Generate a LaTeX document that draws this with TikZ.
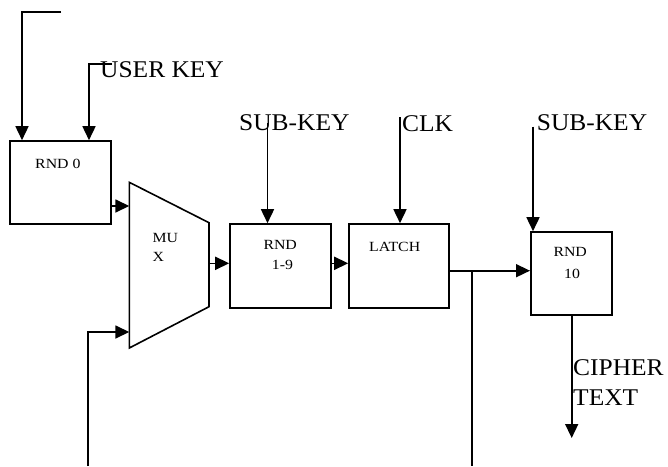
\documentclass[tikz,border=0pt]{standalone}
\usepackage{fontspec}
\setmainfont{Liberation Serif}
\newfontfamily\bigfam[FakeStretch=1.06]{Liberation Serif}
\newfontfamily\smallfam[FakeStretch=1.13]{Liberation Serif}
\usetikzlibrary{arrows.meta}
\begin{document}
\begin{tikzpicture}[x=1pt,y=-1pt,
  box/.style={draw, line width=1.6pt, rectangle, inner sep=0pt},
  arr/.style={line width=1.6pt, -{Triangle[length=14pt,width=13pt]}},
  wire/.style={line width=1.6pt},
  big/.style={anchor=base west, inner sep=0pt, font=\bigfam\fontsize{24}{30}\selectfont},
  small/.style={anchor=base west, inner sep=0pt, font=\smallfam\fontsize{14}{18}\selectfont}]
\useasboundingbox (0,0) rectangle (668,466);

% boxes
\node[box, minimum width=101pt, minimum height=83pt] (r0) at (60.5,182.5) {};
\node[box, minimum width=101pt, minimum height=84pt] (r19) at (280.5,266) {};
\node[box, minimum width=100pt, minimum height=84pt] (latch) at (399,266) {};
\node[box, minimum width=81pt, minimum height=83pt] (r10) at (571.3,273.5) {};

% mux
\coordinate (mux1) at (129.3,182.3);
\coordinate (mux2) at (209,222.7);
\coordinate (mux3) at (209,306.7);
\coordinate (mux4) at (129.3,348);
\draw[wire, line join=miter] (mux1) -- (mux2) -- (mux3) -- (mux4) -- cycle;

% box texts
\node[small] (t0) at (35,168) {RND 0};
\node[small] (tmu) at (152.3,242.7) {MU};
\node[small] (tx) at (152.3,261.7) {X};
\node[small] (t19a) at (263.3,249.3) {RND};
\node[small] (t19b) at (271.7,269.3) {1-9};
\node[small] (tl) at (369,251) {LATCH};
\node[small] (t10a) at (553.3,256.7) {RND};
\node[small] (t10b) at (564,278.3) {10};

% labels
\node[big] (luk) at (100,77.3) {USER KEY};
\node[big] (lsk1) at (239,130.7) {SUB-KEY};
\node[big] (lclk) at (402,131.5) {CLK};
\node[big] (lsk2) at (536.7,130.7) {SUB-KEY};
\node[big] (lct1) at (573,375) {CIPHER};
\node[big] (lct2) at (573,405) {TEXT};

% connector coordinates
\coordinate (ctl) at (61,12);
\coordinate (cin1) at (22,12);
\coordinate (cuk) at (112,64);
\coordinate (cuk2) at (89,64);
\coordinate (m1) at (129.3,206);
\coordinate (m2) at (129.3,332);
\coordinate (cbl) at (88,466);
\coordinate (mo) at (209,263.3);
\coordinate (csk1) at (267.5,123);
\coordinate (cclk) at (400,117);
\coordinate (j) at (472,270.7);
\coordinate (jb) at (472,466);
\coordinate (csk2) at (533,126.7);
\coordinate (ct) at (571.7,438);

% connectors
\draw[arr] (ctl) -- (cin1) -- (cin1 |- r0.north);
\draw[arr] (cuk) -- (cuk2) -- (cuk2 |- r0.north);
\draw[arr] (r0.east |- m1) -- (m1);
\draw[arr] (cbl) |- (m2);
\draw[arr] (mo) -- (mo -| r19.west);
\draw[arr] (csk1) -- (csk1 |- r19.north);
\draw[arr] (r19.east |- mo) -- (latch.west |- mo);
\draw[arr] (cclk) -- (cclk |- latch.north);
\draw[arr] (latch.east |- j) -- (r10.west |- j);
\draw[wire] (j) -- (jb);
\draw[arr] (csk2) -- (csk2 |- r10.north);
\draw[arr] (ct |- r10.south) -- (ct);
\end{tikzpicture}
\end{document}
